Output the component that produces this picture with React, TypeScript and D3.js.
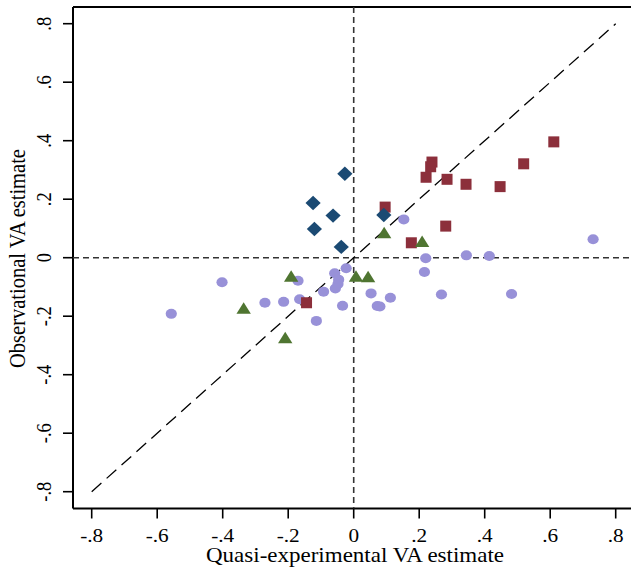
import React from "react";
import * as d3 from "d3";

const ticks = [-0.8, -0.6, -0.4, -0.2, 0, 0.2, 0.4, 0.6, 0.8];
const tickLabels = ["-.8", "-.6", "-.4", "-.2", "0", ".2", ".4", ".6", ".8"];

// [quasi-experimental, observational]
const circles: [number, number][] = [
  [0.153, 0.131], [0.731, 0.063], [0.22, -0.002], [0.344, 0.008], [0.414, 0.006],
  [0.216, -0.049], [-0.023, -0.036], [-0.058, -0.053], [-0.046, -0.075], [-0.048, -0.09],
  [-0.056, -0.105], [-0.092, -0.116], [0.053, -0.122], [0.112, -0.137], [0.072, -0.165],
  [0.08, -0.167], [-0.034, -0.164], [-0.114, -0.216], [0.268, -0.126], [0.482, -0.124],
  [-0.17, -0.079], [-0.402, -0.084], [-0.557, -0.192], [-0.271, -0.154], [-0.214, -0.151],
  [-0.165, -0.142],
];
const squares: [number, number][] = [
  [0.611, 0.396], [0.519, 0.321], [0.447, 0.243], [0.343, 0.251], [0.285, 0.268],
  [0.239, 0.327], [0.235, 0.311], [0.221, 0.275], [0.096, 0.173], [0.281, 0.108],
  [0.176, 0.051], [-0.144, -0.154],
];
const diamonds: [number, number][] = [
  [-0.027, 0.287], [-0.124, 0.187], [-0.063, 0.144], [-0.12, 0.098], [-0.038, 0.037],
  [0.092, 0.146],
];
const triangles: [number, number][] = [
  [0.093, 0.085], [0.209, 0.055], [-0.191, -0.063], [0.007, -0.063], [0.044, -0.065],
  [-0.336, -0.173], [-0.209, -0.274],
];

const W = 631, H = 567;
const x = d3.scaleLinear().domain([-0.8, 0.8]).range([91.7, 615.7]);
const y = d3.scaleLinear().domain([-0.8, 0.8]).range([491.7, 23.7]);
const left = 73, top = 7, bottom = 508.5, right = 640;
const font = "'Liberation Serif', 'Times New Roman', serif";
const SX = 1.15;

const diamondPath = "M0,-7.2L7.6,0L0,7.2L-7.6,0Z";
const triPath = "M0,-6L7.2,5.5L-7.2,5.5Z";

export default function App() {
  return (
    <svg width={W} height={H} style={{ position: "absolute", left: 0, top: 0, background: "#fff" }}>
      <rect x={0} y={0} width={W} height={H} fill="#fff" />
      {/* frame */}
      <line x1={left} x2={right} y1={top} y2={top} stroke="#000" strokeWidth={2} />
      <line x1={left} x2={left} y1={top} y2={bottom} stroke="#000" strokeWidth={2} />
      <line x1={left} x2={right} y1={bottom} y2={bottom} stroke="#000" strokeWidth={2} />
      {/* reference lines */}
      <line x1={left} x2={right} y1={y(0)} y2={y(0)} stroke="#333" strokeWidth={1.6} strokeDasharray="6,4" />
      <line x1={x(0)} x2={x(0)} y1={top} y2={bottom} stroke="#333" strokeWidth={1.6} strokeDasharray="6,4" />
      <line x1={x(-0.8)} y1={y(-0.8)} x2={x(0.8)} y2={y(0.8)} stroke="#000" strokeWidth={1.3} strokeDasharray="13,7" />
      {/* ticks */}
      {ticks.map((t, i) => (
        <g key={"x" + i}>
          <line x1={x(t)} x2={x(t)} y1={bottom} y2={bottom + 10} stroke="#000" strokeWidth={1.6} />
          <text transform={`translate(${x(t)},541.5) scale(${SX},1)`} textAnchor="middle" fontFamily={font} fontSize={18.5}>{tickLabels[i]}</text>
          <line x1={left - 10} x2={left} y1={y(t)} y2={y(t)} stroke="#000" strokeWidth={1.6} />
          <text transform={`translate(51,${y(t)}) rotate(-90) scale(1,${SX})`} textAnchor="middle" fontFamily={font} fontSize={18.5}>{tickLabels[i]}</text>
        </g>
      ))}
      <text transform={`translate(355,562.3) scale(${SX},1)`} textAnchor="middle" fontFamily={font} fontSize={20}>Quasi-experimental VA estimate</text>
      <text transform={`translate(25,258.5) rotate(-90) scale(1,1.12)`} textAnchor="middle" fontFamily={font} fontSize={20.5}>Observational VA estimate</text>
      {/* markers */}
      {circles.map((d, i) => (
        <ellipse key={"c" + i} cx={x(d[0])} cy={y(d[1])} rx={5.6} ry={5} fill="#9891d8" />
      ))}
      {squares.map((d, i) => (
        <rect key={"s" + i} x={x(d[0]) - 5.5} y={y(d[1]) - 5.5} width={11} height={11} fill="#8c2f3b" />
      ))}
      {diamonds.map((d, i) => (
        <path key={"d" + i} d={diamondPath} transform={`translate(${x(d[0])},${y(d[1])})`} fill="#1b4a73" />
      ))}
      {triangles.map((d, i) => (
        <path key={"t" + i} d={triPath} transform={`translate(${x(d[0])},${y(d[1])})`} fill="#4f7531" />
      ))}
    </svg>
  );
}
